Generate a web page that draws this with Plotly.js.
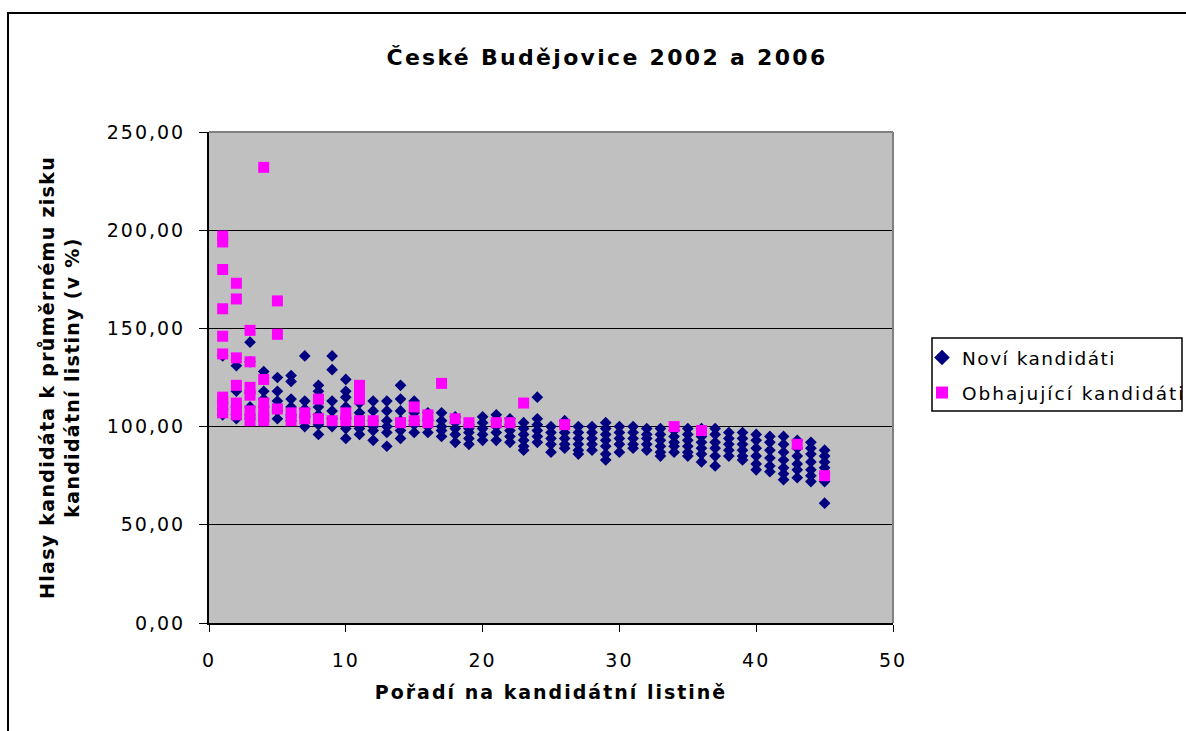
<!DOCTYPE html>
<html>
<head>
<meta charset="utf-8">
<script src="https://cdn.plot.ly/plotly-3.0.1.min.js"></script>
<style>
html,body{margin:0;padding:0;background:#fff;}
#chart{width:1186px;height:731px;}
svg text{letter-spacing:2px;}
svg .legend text, svg text.legendtext{letter-spacing:1.5px !important;}
svg text.ytitle{letter-spacing:1.3px;}
svg text.gtitle{letter-spacing:2.3px;}
</style>
</head>
<body>
<div id="chart"></div>
<script>
// Noví kandidáti (new candidates): position on list -> values
const newX = [
 1,1,1,1,
 2,2,2,2,2,
 3,3,3,3,3,3,
 4,4,4,4,4,
 5,5,5,5,5,
 6,6,6,6,6,6,
 7,7,7,7,7,
 8,8,8,8,8,8,
 9,9,9,9,9,9,
 10,10,10,10,10,10,10,
 11,11,11,11,11,
 12,12,12,12,12,12,
 13,13,13,13,13,13,
 14,14,14,14,14,14,
 15,15,15,15,15,
 16,16,16,16,
 17,17,17,17,17,
 18,18,18,18,18,
 19,19,19,19,19,
 20,20,20,20,20,
 21,21,21,21,21,
 22,22,22,22,22,
 23,23,23,23,23,23,
 24,24,24,24,24,24,
 25,25,25,25,25,
 26,26,26,26,26,26,
 27,27,27,27,27,27,
 28,28,28,28,28,
 29,29,29,29,29,29,29,
 30,30,30,30,30,
 31,31,31,31,31,
 32,32,32,32,32,
 33,33,33,33,33,33,
 34,34,34,34,34,
 35,35,35,35,35,35,
 36,36,36,36,36,36,
 37,37,37,37,37,37,
 38,38,38,38,38,
 39,39,39,39,39,39,
 40,40,40,40,40,40,
 41,41,41,41,41,41,
 42,42,42,42,42,42,42,
 43,43,43,43,43,43,
 44,44,44,44,44,44,44,
 45,45,45,45,45,45,45
];
const newY = [
 136,112,109,106,
 131,118,110,106,104,
 143,133,117,110,106,104,
 128,118,114,110,103,
 125,118,113,108,104,
 126,123,114,110,106,103,
 136,113,109,105,100,
 121,118,110,106,101,96,
 136,129,113,108,104,100,
 124,118,115,110,104,99,94,
 112,107,103,99,96,
 113,108,103,100,98,93,
 113,108,103,100,97,90,
 121,114,108,103,98,94,
 113,107,103,101,97,
 107,103,100,97,
 107,103,100,98,95,
 105,102,99,96,92,
 101,99,97,94,91,
 105,102,99,96,93,
 106,103,100,97,93,
 104,101,98,95,92,
 102,99,96,93,90,88,
 115,104,101,98,95,92,
 100,97,94,91,87,
 103,100,97,94,91,89,
 100,97,94,91,88,86,
 100,97,94,91,88,
 102,99,96,93,90,86,83,
 100,97,94,91,87,
 100,97,94,91,89,
 99,96,94,91,88,
 99,96,93,90,87,85,
 98,95,92,90,87,
 99,96,93,90,87,85,
 99,95,92,89,86,82,
 99,96,92,89,85,80,
 97,94,91,88,85,
 97,94,91,88,85,83,
 96,93,89,85,81,78,
 95,92,88,84,80,77,
 95,91,87,83,79,76,73,
 93,89,85,81,78,74,
 92,89,86,82,78,75,72,
 88,85,82,79,76,72,61
];
// Obhajující kandidáti (incumbents)
const incX = [
 1,1,1,1,1,1,1,1,1,1,
 2,2,2,2,2,2,2,
 3,3,3,3,3,3,
 4,4,4,4,4,4,
 5,5,5,
 6,6,
 7,7,
 8,8,
 9,
 10,10,
 11,11,11,11,
 12,14,15,15,16,16,17,18,19,21,22,23,26,34,36,43,45
];
const incY = [
 197,194,180,160,146,137,115,113,110,107,
 173,165,135,121,112,108,106,
 149,133,120,116,108,103,
 232,124,112,108,105,103,
 164,147,109,
 107,103,
 107,104,
 114,104,
 103,
 107,103,
 121,117,114,103,
 103,102,110,103,106,102,122,104,102,102,102,112,101,100,98,91,75
];
const seriesNames = ["Noví kandidáti", "Obhajující kandidáti"];
const titleText = "České Budějovice 2002 a 2006";
const xTitle = "Pořadí na kandidátní listině";
const yTitle = "Hlasy kandidáta k průměrnému zisku<br>kandidátní listiny (v %)";

const FONT = "DejaVu Sans, Arial, sans-serif";
const data = [
 {x: newX, y: newY, type: "scatter", mode: "markers", name: seriesNames[0], legend: "legend",
  marker: {symbol: "diamond", size: 9, color: "#000080", line: {width: 0}}},
 {x: incX, y: incY, type: "scatter", mode: "markers", name: seriesNames[1], legend: "legend2",
  marker: {symbol: "square", size: 11, color: "#FF00FF", line: {width: 0}}}
];
const L = 209, R = 893, T = 132, B = 623, W = 1186, H = 731;
const pw = R - L, ph = B - T;
const px = p => (p - L) / pw;
const py = p => (B - p) / ph;
const legBase = {xanchor: "left", yanchor: "middle", borderwidth: 0, bgcolor: "rgba(0,0,0,0)",
  font: {size: 18.5, family: FONT, color: "#000"}, itemsizing: "constant"};
const layout = {
 width: W, height: H,
 margin: {l: L, r: W - R, t: T, b: H - B, pad: 0, autoexpand: false},
 paper_bgcolor: "#ffffff",
 plot_bgcolor: "#C0C0C0",
 separators: ", ",
 font: {family: FONT, color: "#000", size: 19},
 showlegend: true,
 title: {text: "<b>" + titleText + "</b>", font: {size: 22, family: FONT, color: "#000"},
  xref: "container", yref: "container", x: 607 / W, y: 1 - 57 / H, xanchor: "center", yanchor: "middle"},
 xaxis: {range: [0, 50], dtick: 10, tick0: 0, showgrid: false, zeroline: false, automargin: false,
  showline: true, linecolor: "#000", linewidth: 2, ticks: "outside", ticklen: 7, tickcolor: "#000", tickwidth: 1,
  ticklabelstandoff: 12, tickfont: {size: 19, family: FONT}, fixedrange: true,
  title: {text: "<b>" + xTitle + "</b>", font: {size: 19, family: FONT}, standoff: 16}},
 yaxis: {range: [0, 250], dtick: 50, tick0: 0, tickformat: ".2f", showgrid: true, gridcolor: "#000", gridwidth: 1,
  zeroline: false, showline: true, linecolor: "#000", linewidth: 2, ticks: "outside", ticklen: 8, tickcolor: "#000",
  automargin: false, ticklabelstandoff: 10, tickfont: {size: 19, family: FONT}, fixedrange: true,
  title: {text: "<b>" + yTitle + "</b>", font: {size: 19, family: FONT}, standoff: 22}},
 legend: Object.assign({x: px(922), y: py(358)}, legBase),
 legend2: Object.assign({x: px(922), y: py(393)}, legBase),
 shapes: [
  {type: "line", xref: "paper", yref: "paper", x0: 0, x1: 1, y0: 1, y1: 1, line: {color: "#808080", width: 2}},
  {type: "line", xref: "paper", yref: "paper", x0: 1, x1: 1, y0: 0, y1: 1, line: {color: "#808080", width: 2}},
  {type: "rect", xref: "paper", yref: "paper", x0: px(932), x1: px(1182), y0: py(411), y1: py(338),
   line: {color: "#000", width: 1.5}, fillcolor: "#ffffff", layer: "below"},
  {type: "rect", xref: "paper", yref: "paper", x0: px(8), x1: px(1195), y0: py(740), y1: py(13),
   line: {color: "#000", width: 2}, fillcolor: "rgba(0,0,0,0)", layer: "below"}
 ]
};
Plotly.newPlot("chart", data, layout, {displayModeBar: false, staticPlot: true});
</script>
</body>
</html>
